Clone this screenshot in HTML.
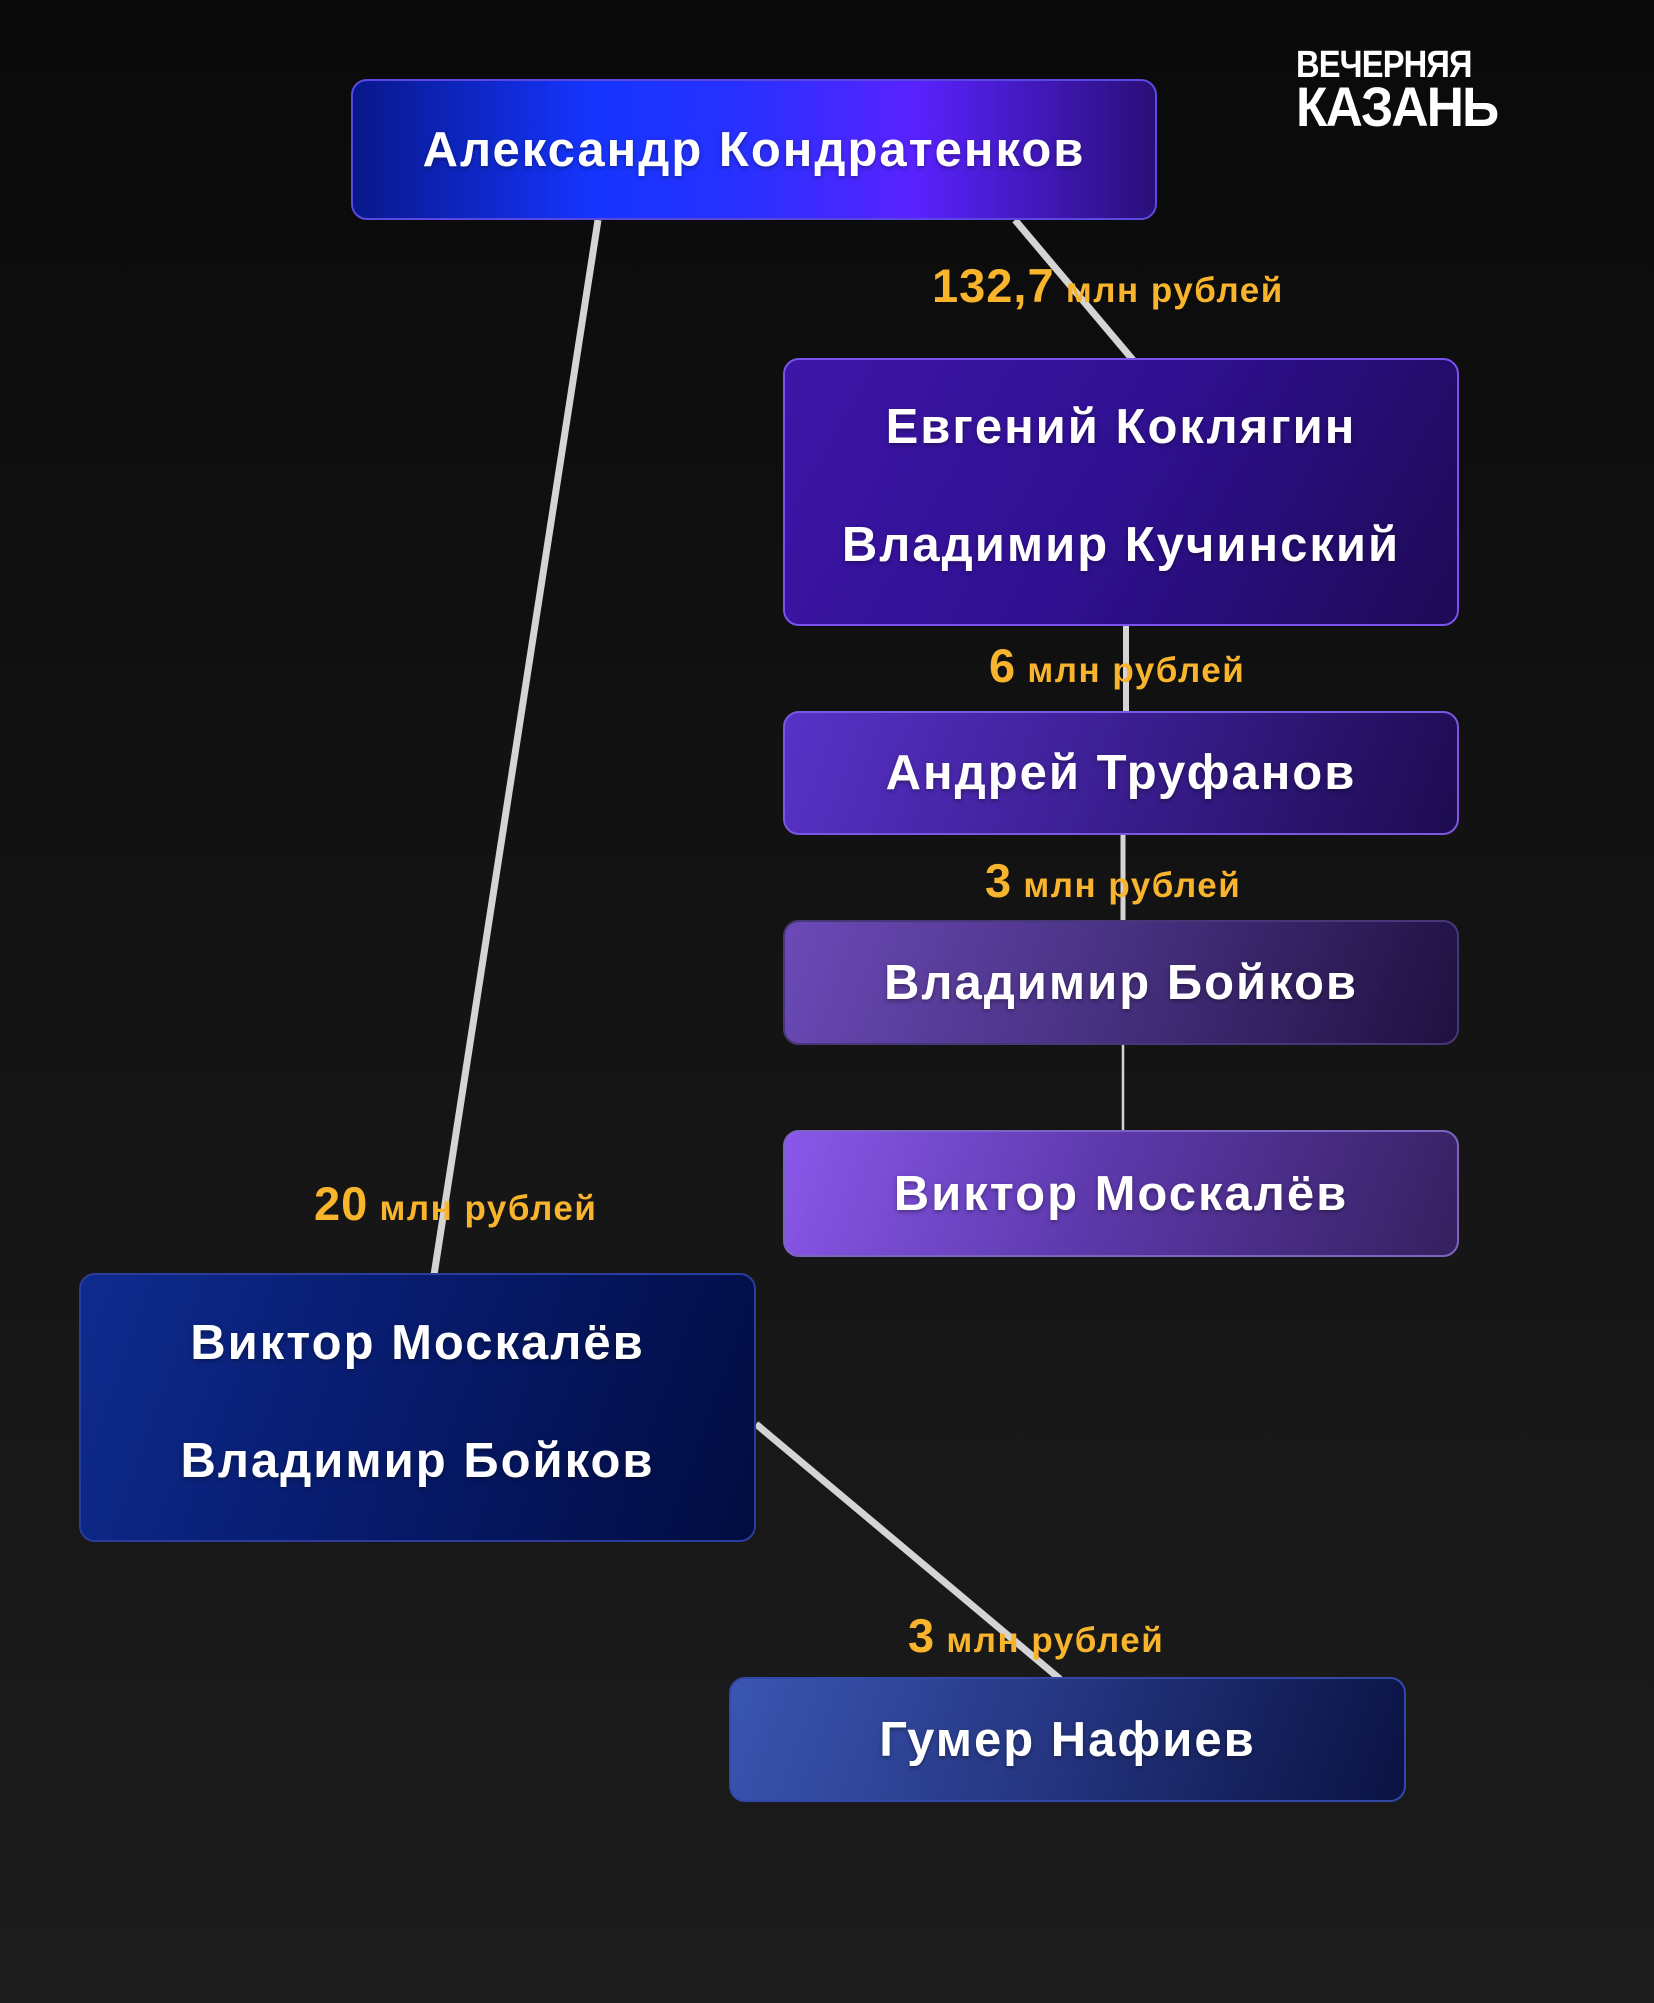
<!DOCTYPE html>
<html><head><meta charset="utf-8"><style>
html,body{margin:0;padding:0}
body{width:1654px;height:2003px;position:relative;overflow:hidden;background:linear-gradient(180deg,#0a0a0a 0%,#141414 50%,#1c1c1c 100%);font-family:"Liberation Sans",sans-serif}
.b{position:absolute;box-sizing:border-box;border-radius:16px;border:2px solid;color:#fff;font-weight:bold;font-size:49px;letter-spacing:2px;display:flex;flex-direction:column;justify-content:center;align-items:center;text-shadow:0 2px 4px rgba(0,0,0,.35)}
.b div{line-height:118px}
.b.t{padding-bottom:12px}
.l{position:absolute;color:#f8b42c;font-weight:bold;font-size:35px;letter-spacing:1.5px;white-space:nowrap;line-height:1}
.l b{font-size:47px;letter-spacing:1px}
svg{position:absolute;left:0;top:0}
.logo{position:absolute;left:1296px;top:48px;width:240px;color:#fff;font-weight:900;line-height:0.9}
</style></head><body>
<svg width="1654" height="2003">
<g stroke="#d4d4d4" stroke-linecap="butt">
<line x1="598" y1="220" x2="434" y2="1275" stroke-width="7"/>
<line x1="1015" y1="220" x2="1133" y2="360" stroke-width="7"/>
<line x1="1126" y1="626" x2="1126" y2="712" stroke-width="6"/>
<line x1="1123" y1="834" x2="1123" y2="921" stroke-width="5"/>
<line x1="1123" y1="1045" x2="1123" y2="1131" stroke-width="2.5"/>
<line x1="756" y1="1424" x2="1060" y2="1679" stroke-width="7"/>
</g>
</svg>
<div class="b" style="left:351px;top:79px;width:806px;height:141px;border-color:#5b48e0;background:linear-gradient(90deg,#08188a 0%,#1535ff 30%,#2a30ff 50%,#5a22ff 70%,#2a0f78 100%)"><div>Александр Кондратенков</div></div>
<div class="b t" style="left:783px;top:358px;width:676px;height:268px;border-color:#7a52ee;background:linear-gradient(120deg,#3e16a8 0%,#2f1090 50%,#1d0a55 100%)"><div>Евгений Коклягин</div><div>Владимир Кучинский</div></div>
<div class="b" style="left:783px;top:711px;width:676px;height:124px;border-color:#7a58e0;background:linear-gradient(110deg,#5832c8 0%,#3a1e90 50%,#1c0b50 100%)"><div>Андрей Труфанов</div></div>
<div class="b" style="left:783px;top:920px;width:676px;height:125px;border-color:#463878;background:linear-gradient(110deg,#6c4ab8 0%,#46307f 50%,#1f1040 100%)"><div>Владимир Бойков</div></div>
<div class="b" style="left:783px;top:1130px;width:676px;height:127px;border-color:#7a64c0;background:linear-gradient(110deg,#8a58ea 0%,#5e3aae 45%,#36205f 100%)"><div>Виктор Москалёв</div></div>
<div class="b t" style="left:79px;top:1273px;width:677px;height:269px;border-color:#2b3d9c;background:linear-gradient(110deg,#0e2b8e 0%,#071a6a 50%,#020c40 100%)"><div>Виктор Москалёв</div><div>Владимир Бойков</div></div>
<div class="b" style="left:729px;top:1677px;width:677px;height:125px;border-color:#3248a8;background:linear-gradient(110deg,#3a56b2 0%,#24347f 50%,#0a1242 100%)"><div>Гумер Нафиев</div></div>
<div class="l" style="left:932px;top:262px"><b>132,7</b> млн рублей</div>
<div class="l" style="left:989px;top:642px"><b>6</b> млн рублей</div>
<div class="l" style="left:985px;top:857px"><b>3</b> млн рублей</div>
<div class="l" style="left:314px;top:1180px"><b>20</b> млн рублей</div>
<div class="l" style="left:908px;top:1612px"><b>3</b> млн рублей</div>
<div class="logo"><div style="font-size:38px;transform:scaleX(0.86);transform-origin:left;letter-spacing:-1px">ВЕЧЕРНЯЯ</div><div style="font-size:56px;transform:scaleX(0.92);transform-origin:left;letter-spacing:-2px">КАЗАНЬ</div></div>
</body></html>
